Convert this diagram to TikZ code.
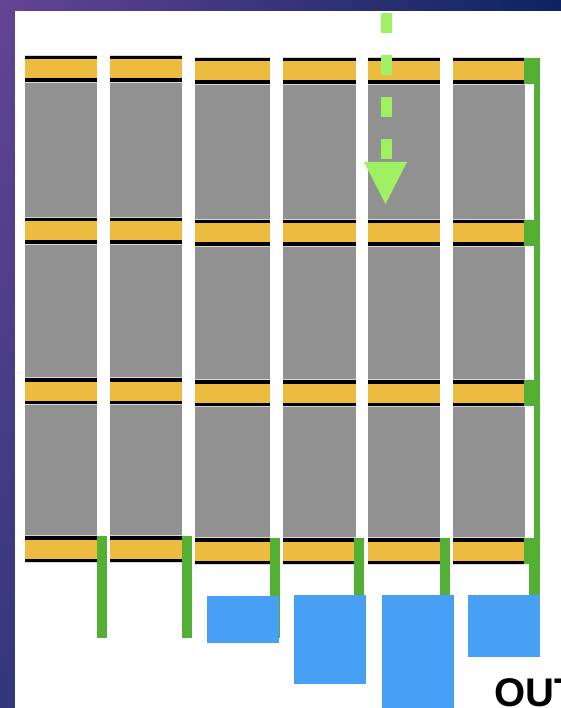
\documentclass[tikz,border=0pt]{standalone}
\usepackage{fontspec}
\setmainfont{Liberation Sans}
\usetikzlibrary{shadings}
\definecolor{cgrey}{RGB}{145,145,145}
\definecolor{cyellow}{RGB}{236,187,64}
\definecolor{cgreen}{RGB}{84,176,52}
\definecolor{clgreen}{RGB}{160,240,100}
\definecolor{cblue}{RGB}{72,160,245}
\definecolor{chalo}{RGB}{215,215,215}
\definecolor{bgul}{RGB}{100,68,148}
\definecolor{bgur}{RGB}{12,36,96}
\definecolor{bgll}{RGB}{50,56,122}
\definecolor{bglr}{RGB}{20,36,96}
\tikzset{
  greycell/.style={fill=cgrey},
  bandfill/.style={fill=cyellow},
  bandline/.style={fill=black},
  wire/.style={fill=cgreen},
  outbox/.style={fill=cblue},
}
\begin{document}
\begin{tikzpicture}[x=1pt,y=-1pt]
\useasboundingbox (0,0) rectangle (561,708);
\clip (0,0) rectangle (561,708);
% background frame
\shade[upper left=bgul, upper right=bgur, lower left=bgll, lower right=bglr] (0,0) rectangle (561,708);
\fill[white] (15,11) rectangle (561,708);
% columns
\foreach \xa/\xb/\dy in {25/97/0,110/182/0,195/270/2,283/356/2,368/440/2,453/525/2} {
  \fill[greycell] (\xa,56+\dy+26) rectangle (\xb,536+\dy);
  \foreach \yb in {56,218,378,536} {
    \fill[chalo] (\xa,\yb+\dy-1) rectangle (\xb,\yb+\dy+27);
    \fill[bandfill] (\xa,\yb+\dy) rectangle (\xb,\yb+\dy+26);
    \fill[bandline] (\xa,\yb+\dy) rectangle (\xb,\yb+\dy+3.5);
    \fill[bandline] (\xa,\yb+\dy+22.5) rectangle (\xb,\yb+\dy+26);
  }
}
% right green rail
\fill[wire] (534,58) rectangle (540,538);
\foreach \yb in {58,220,380,538} \fill[wire] (524,\yb) rectangle (540,\yb+26);
\fill[wire] (529,538) rectangle (540,596);
% green bars below
\foreach \xa/\ya/\yb in {97/536/638,182/536/638,270/538/638,354/538/596,440/538/596}
  \fill[wire] (\xa,\ya) rectangle (\xa+10,\yb);
% blue boxes
\fill[outbox] (207,596) rectangle (279,643);
\fill[outbox] (294,595) rectangle (366,684);
\fill[outbox] (382,595) rectangle (454,708);
\fill[outbox] (468,595) rectangle (540,657);
% dashed arrow
\coordinate (atop) at (386.5,13);
\coordinate (abase) at (386.5,163);
\coordinate (atip) at (385.5,204);
\draw[clgreen, line width=11pt, dash pattern=on 20pt off 22pt] (atop) -- (abase);
\fill[clgreen] (364,162) -- (407,162) -- (atip) -- cycle;
% label
\node[anchor=base west, inner sep=0pt, font=\bfseries\fontsize{40}{48}\selectfont] (out) at (494,706) {OUT};
\end{tikzpicture}
\end{document}
